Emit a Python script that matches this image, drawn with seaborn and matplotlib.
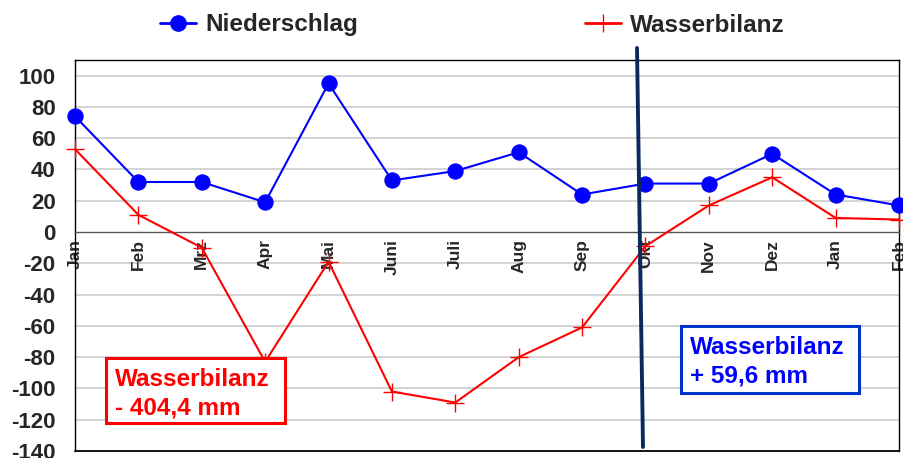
import matplotlib
matplotlib.use("Agg")
import matplotlib.pyplot as plt
import seaborn as sns
import pandas as pd
from matplotlib.lines import Line2D
from matplotlib.patches import Rectangle

months = ["Jan", "Feb", "Mrz", "Apr", "Mai", "Juni", "Juli", "Aug", "Sep",
          "Okt", "Nov", "Dez", "Jan", "Feb"]
niederschlag = [74, 32, 32, 19, 95, 33, 39, 51, 24, 31, 31, 50, 24, 17]
wasserbilanz = [53, 11, -10, -83, -19, -102, -109, -80, -61, -9, 17, 35, 9, 8]
yticks = list(range(-140, 101, 20))

sns.set_style("white")
plt.rcParams['font.family'] = ['Liberation Sans', 'DejaVu Sans']
plt.rcParams['font.weight'] = 'bold'

W, H = 904, 458
def fx(px):
    return px / W
def fy(py):
    return 1 - py / H

df = pd.DataFrame({"pos": range(len(months)), "N": niederschlag, "W": wasserbilanz})

fig = plt.figure(figsize=(9.04, 4.58), dpi=100)
ax = fig.add_axes([fx(75), fy(451), fx(899) - fx(75), fy(60) - fy(451)])

for y in yticks:
    if y not in (0, -140):
        ax.axhline(y, color="#cccccc", lw=1.2, zorder=0)

sns.lineplot(data=df, x="pos", y="W", ax=ax, color="#ff0000", lw=1.5,
             marker="+", markersize=13, markeredgewidth=1.0,
             markeredgecolor="#ff0000", zorder=3)
sns.lineplot(data=df, x="pos", y="N", ax=ax, color="#0000ff", lw=1.5,
             marker="o", markersize=11, markeredgecolor="#0000ff",
             markerfacecolor="#0000ff", zorder=4)
for ln in ax.get_lines():
    ln.set_clip_on(False)

ax.set_xlim(0, 13)
ax.set_ylim(-140, 110)
ax.spines['bottom'].set_position(('data', 0))
ax.spines['bottom'].set_color("#555555")
ax.spines['bottom'].set_linewidth(1.0)
for s in ['left', 'top', 'right']:
    ax.spines[s].set_color("black")
    ax.spines[s].set_linewidth(1.0)
ax.axhline(-140, color="black", lw=1.3, clip_on=False, zorder=5)

ax.set_yticks(yticks)
ax.set_yticklabels([str(v) for v in yticks], fontsize=16, fontweight='bold')
ax.set_xticks(range(len(months)))
ax.set_xticklabels(months, rotation=90, fontsize=12.5, fontweight='bold', va='top')
ax.set_xlabel("")
ax.set_ylabel("")
ax.tick_params(axis='x', length=5, width=1, color="#555555", pad=0, direction='out')
ax.tick_params(axis='y', length=7, width=1, color="#555555", pad=7, direction='out')

# vertical separator line (figure coordinates)
fig.add_artist(Line2D([fx(637), fx(643)], [fy(48), fy(447)],
                      color="#0a2a5e", lw=2.8, transform=fig.transFigure))

# annotation boxes
fig.add_artist(Rectangle((fx(106), fy(423)), fx(285) - fx(106), fy(358) - fy(423),
                         transform=fig.transFigure, fc="white", ec="#ff0000", lw=2.2, zorder=6))
fig.text(fx(115), fy(386), "Wasserbilanz", color="#ff0000", fontsize=17.5,
         fontweight='bold', va='baseline', ha='left', zorder=7)
fig.text(fx(115), fy(415), "- 404,4 mm", color="#ff0000", fontsize=17.5,
         fontweight='bold', va='baseline', ha='left', zorder=7)

fig.add_artist(Rectangle((fx(681), fy(393)), fx(859) - fx(681), fy(326) - fy(393),
                         transform=fig.transFigure, fc="white", ec="#0033cc", lw=2.2, zorder=6))
fig.text(fx(690), fy(354), "Wasserbilanz", color="#0000ff", fontsize=17.5,
         fontweight='bold', va='baseline', ha='left', zorder=7)
fig.text(fx(690), fy(383), "+ 59,6 mm", color="#0000ff", fontsize=17.5,
         fontweight='bold', va='baseline', ha='left', zorder=7)

# legend entries
h1 = Line2D([], [], color="#0000ff", lw=2, marker="o", markersize=11)
h2 = Line2D([], [], color="#ff0000", lw=2, marker="+", markersize=13, markeredgewidth=1.0)
for h, lab, x0 in [(h1, "Niederschlag", 160), (h2, "Wasserbilanz", 585)]:
    fig.legend([h], [lab], loc='center left', bbox_to_anchor=(fx(x0), fy(25)),
               frameon=False, borderpad=0, borderaxespad=0, handlelength=1.5,
               handletextpad=0.35, prop=dict(size=17.5, weight='bold'))

fig.savefig("out.png", dpi=100)
